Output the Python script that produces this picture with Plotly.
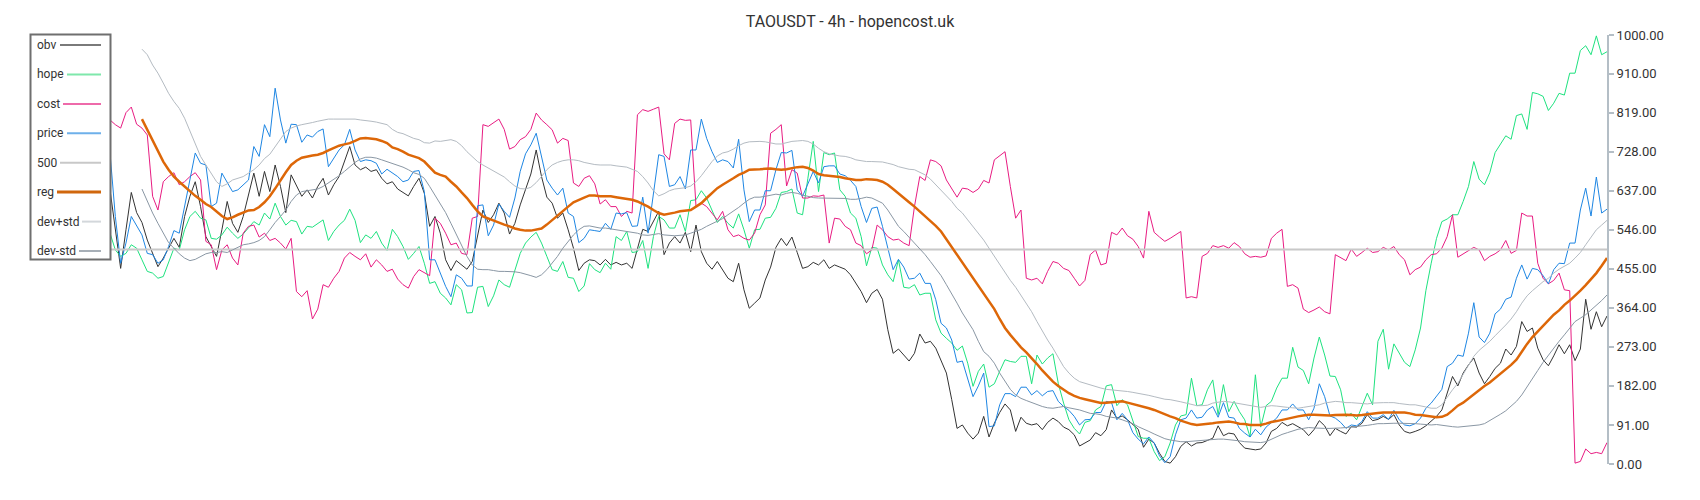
import plotly.graph_objects as go

title_text = "TAOUSDT - 4h - hopencost.uk"
series_names = ["obv", "hope", "cost", "price", "500", "reg", "dev+std", "dev-std"]
tick_vals = [0, 91, 182, 273, 364, 455, 546, 637, 728, 819, 910, 1000]
tick_text = ["%.2f" % v for v in tick_vals]
level_500 = 500
reg_start = 6

obv = [639, 546, 456, 546, 633, 586, 563, 522, 491, 460, 480, 503, 526, 505, 577, 624, 658, 600, 530, 507, 484, 546, 612, 561, 540, 577, 631, 678, 624, 682, 635, 697,
       647, 586, 674, 647, 624, 639, 620, 647, 666, 627, 651, 670, 705, 740, 697, 686, 692, 682, 686, 666, 653, 658, 641, 633, 625, 647, 666, 631, 554, 577,
       538, 476, 451, 474, 464, 454, 472, 536, 592, 563, 581, 608, 585, 536, 561, 604, 639, 676, 732, 670, 622, 608, 573, 585, 546, 503, 451, 468, 476, 474, 464, 477,
       464, 470, 464, 468, 456, 503, 547, 542, 565, 589, 488, 515, 530, 515, 540, 495, 557, 495, 468, 454, 472, 453, 433, 425, 468, 406, 363, 375, 387, 429, 459, 505,
       526, 509, 529, 493, 456, 460, 470, 464, 476, 456, 464, 459, 454, 441, 421, 402, 376, 398, 407, 384, 313, 258, 268, 254, 240, 258, 303, 282, 286, 270,
       243, 212, 150, 83, 91, 72, 58, 72, 111, 63, 95, 120, 140, 126, 76, 109, 95, 91, 94, 80, 97, 107, 99, 86, 80, 68, 42, 49, 56, 73, 66,
       80, 126, 107, 112, 103, 91, 81, 39, 58, 49, 25, 6, 2, 17, 41, 52, 42, 49, 50, 55, 60, 89, 66, 72, 70, 50, 37, 35, 33, 35, 49,
       76, 83, 97, 89, 94, 87, 80, 66, 80, 101, 89, 66, 83, 76, 70, 87, 86, 95, 115, 101, 104, 111, 104, 115, 91, 76, 72, 76, 81, 89, 101,
       111, 126, 165, 204, 182, 212, 231, 247, 212, 187, 204, 223, 235, 268, 254, 274, 332, 309, 317, 270, 243, 229, 252, 278, 257, 278, 241, 268, 384, 314, 355, 320, 345]

hope = [538, 499, 484, 491, 511, 503, 476, 449, 445, 433, 437, 468, 503, 499, 546, 577, 589, 573, 569, 526, 524, 534, 552, 538, 526, 536, 550, 565, 557, 585, 571, 608,
        577, 557, 568, 565, 536, 554, 552, 561, 569, 521, 542, 557, 568, 594, 568, 516, 534, 526, 542, 515, 498, 547, 530, 507, 477, 491, 507, 468, 421, 425,
        398, 387, 371, 418, 406, 352, 353, 412, 414, 367, 392, 429, 418, 412, 453, 491, 515, 529, 540, 515, 484, 453, 449, 472, 435, 433, 402, 415, 467, 453, 446, 468,
        454, 530, 521, 542, 493, 495, 521, 456, 530, 577, 569, 550, 550, 581, 542, 614, 616, 637, 620, 592, 563, 577, 561, 550, 583, 546, 503, 546, 547, 573, 575, 596,
        633, 635, 641, 585, 581, 666, 752, 635, 726, 721, 725, 639, 624, 585, 573, 530, 462, 505, 503, 464, 441, 425, 476, 412, 410, 418, 394, 398, 398, 336,
        305, 293, 282, 265, 275, 235, 181, 216, 233, 179, 187, 216, 243, 239, 237, 251, 251, 187, 254, 233, 247, 257, 188, 142, 103, 83, 70, 97, 101, 126, 134,
        182, 185, 136, 150, 138, 103, 64, 60, 60, 29, 8, 17, 49, 91, 112, 115, 200, 136, 138, 173, 196, 115, 185, 122, 146, 122, 103, 63, 208, 86, 136,
        146, 177, 200, 200, 272, 226, 218, 187, 247, 296, 254, 205, 204, 173, 111, 118, 103, 134, 165, 138, 286, 314, 221, 280, 260, 237, 227, 266, 317, 404, 468,
        526, 565, 571, 581, 581, 612, 647, 705, 664, 651, 679, 726, 744, 765, 757, 812, 816, 780, 866, 863, 857, 824, 841, 864, 860, 911, 911, 964, 975, 954, 998, 954, 961]

cost = [802, 791, 783, 819, 832, 792, 783, 767, 624, 592, 658, 670, 679, 651, 658, 670, 679, 662, 519, 511, 453, 499, 511, 480, 464, 538, 554, 557, 529, 538, 521, 526,
        515, 501, 526, 402, 390, 404, 338, 361, 418, 412, 433, 449, 480, 493, 484, 476, 490, 459, 476, 464, 449, 454, 431, 418, 410, 437, 453, 445, 439, 573,
        561, 538, 511, 515, 491, 488, 573, 577, 791, 787, 796, 804, 780, 734, 740, 756, 763, 780, 818, 802, 791, 779, 748, 759, 754, 655, 647, 666, 672, 653, 606, 616,
        600, 600, 577, 589, 585, 814, 826, 822, 827, 832, 723, 709, 794, 804, 801, 802, 600, 608, 600, 585, 569, 589, 546, 530, 534, 526, 522, 538, 581, 604, 771, 780,
        791, 648, 686, 678, 620, 620, 625, 624, 627, 515, 573, 571, 554, 546, 515, 509, 490, 499, 557, 546, 530, 522, 524, 515, 509, 600, 670, 661, 709, 705,
        695, 662, 641, 622, 643, 641, 633, 641, 661, 655, 709, 718, 728, 647, 573, 592, 433, 429, 433, 420, 449, 472, 468, 456, 451, 433, 415, 428, 488, 499, 464,
        468, 540, 534, 550, 532, 524, 507, 480, 589, 540, 529, 519, 526, 534, 542, 387, 390, 387, 484, 491, 509, 505, 509, 503, 516, 507, 490, 482, 484, 482, 485,
        526, 538, 547, 414, 418, 410, 361, 353, 359, 366, 355, 350, 488, 480, 474, 501, 484, 493, 503, 493, 495, 505, 499, 507, 488, 476, 441, 453, 459, 476, 488,
        490, 503, 530, 581, 482, 490, 499, 505, 499, 474, 484, 490, 499, 521, 491, 498, 585, 578, 578, 468, 433, 420, 428, 445, 406, 404, 2, 6, 35, 24, 27, 24, 50]

price = [725, 577, 468, 515, 577, 557, 534, 491, 488, 468, 476, 507, 544, 538, 600, 670, 725, 701, 697, 600, 608, 678, 655, 635, 639, 651, 662, 740, 717, 791, 763, 876,
         802, 748, 792, 791, 750, 767, 762, 775, 781, 693, 713, 732, 744, 780, 732, 705, 709, 707, 701, 676, 687, 679, 670, 658, 662, 682, 684, 635, 476, 476,
         445, 414, 390, 441, 433, 415, 415, 602, 604, 532, 557, 606, 589, 575, 620, 682, 723, 744, 771, 715, 662, 643, 627, 643, 585, 577, 516, 526, 546, 544, 542, 561,
         547, 585, 583, 586, 554, 555, 622, 538, 631, 721, 717, 647, 651, 670, 641, 732, 732, 804, 759, 728, 703, 709, 705, 690, 757, 639, 565, 592, 592, 637, 637, 686,
         726, 725, 731, 639, 624, 651, 682, 655, 693, 695, 695, 676, 672, 661, 647, 600, 563, 596, 599, 554, 501, 453, 477, 459, 431, 433, 445, 421, 421, 383,
         328, 317, 289, 237, 240, 196, 157, 182, 212, 87, 89, 138, 164, 164, 157, 179, 179, 161, 171, 159, 169, 171, 146, 134, 125, 111, 91, 103, 104, 120, 120,
         146, 143, 103, 118, 103, 73, 58, 47, 63, 49, 19, 3, 17, 68, 103, 107, 126, 107, 109, 126, 134, 109, 143, 109, 107, 83, 72, 63, 81, 68, 86,
         97, 107, 126, 126, 140, 126, 126, 103, 130, 187, 157, 112, 107, 97, 83, 91, 89, 99, 122, 107, 107, 115, 104, 125, 103, 91, 89, 94, 107, 130, 142,
         157, 174, 227, 235, 254, 251, 305, 376, 296, 283, 305, 350, 361, 384, 389, 433, 464, 431, 456, 453, 439, 420, 453, 468, 467, 515, 515, 592, 643, 578, 669, 585, 594]

reg = [804, 779, 752, 728, 705, 686, 670, 658, 647, 635, 625, 616, 606, 599, 589, 578, 571, 575, 581, 586, 591, 592, 599, 610, 624, 642,
       662, 680, 697, 707, 714, 717, 719, 721, 725, 731, 736, 742, 745, 748, 753, 759, 760, 759, 757, 753, 748, 738, 734, 728, 721, 717, 713, 705, 693, 679,
       674, 670, 658, 647, 633, 620, 604, 589, 577, 572, 568, 563, 558, 554, 549, 546, 544, 544, 546, 549, 558, 569, 580, 589, 600, 610, 616, 621, 626, 626, 624, 624,
       624, 622, 620, 618, 616, 612, 606, 600, 592, 585, 581, 583, 586, 589, 590, 592, 600, 608, 620, 631, 643, 651, 658, 666, 674, 679, 686, 686, 687, 688, 689, 687,
       686, 687, 690, 692, 693, 690, 684, 676, 673, 672, 670, 669, 666, 664, 662, 662, 664, 663, 662, 658, 651, 641, 630, 620, 610, 600, 589, 578, 568, 555,
       542, 524, 507, 488, 468, 451, 433, 415, 398, 379, 361, 338, 317, 301, 286, 272, 260, 247, 233, 218, 204, 192, 182, 173, 165, 159, 154, 151, 148, 145, 142,
       143, 144, 145, 146, 143, 140, 137, 134, 130, 126, 121, 115, 111, 107, 101, 97, 93, 91, 92, 94, 95, 97, 98, 99, 97, 94, 93, 91, 91, 91, 94,
       98, 100, 103, 106, 109, 111, 113, 115, 115, 114, 113, 113, 114, 115, 115, 114, 113, 114, 116, 117, 119, 120, 120, 120, 120, 120, 118, 115, 114, 112, 111,
       109, 110, 115, 125, 136, 143, 153, 164, 173, 182, 190, 200, 210, 219, 231, 243, 262, 280, 296, 309, 324, 336, 348, 358, 371, 381, 392, 404, 417, 431, 445, 462, 480]

dev_plus = [967, 954, 930, 911, 888, 864, 845, 829, 806, 775, 748, 717, 697, 678, 658, 647, 653, 662, 666, 670, 678, 686, 697, 712, 722, 740,
            757, 775, 783, 788, 791, 793, 796, 799, 802, 804, 804, 804, 804, 804, 804, 802, 801, 799, 797, 794, 791, 780, 773, 770, 765, 759, 756, 749, 748, 753,
            752, 754, 756, 752, 742, 728, 717, 705, 697, 690, 684, 676, 669, 658, 648, 642, 641, 645, 656, 670, 686, 697, 703, 707, 709, 709, 707, 703, 700, 698, 697, 697,
            697, 695, 693, 692, 687, 682, 670, 655, 637, 625, 630, 637, 641, 642, 644, 648, 658, 672, 690, 705, 718, 725, 728, 734, 742, 748, 751, 752, 752, 751, 749, 746,
            746, 749, 752, 753, 754, 752, 746, 736, 728, 723, 720, 718, 717, 714, 709, 707, 705, 705, 705, 704, 701, 698, 693, 690, 687, 686, 679, 674, 664, 651,
            639, 625, 612, 596, 585, 569, 554, 538, 522, 503, 484, 464, 446, 428, 412, 394, 375, 355, 332, 309, 289, 270, 247, 227, 212, 200, 192, 188, 185, 181, 177,
            174, 173, 171, 171, 169, 167, 165, 163, 160, 157, 154, 151, 150, 148, 145, 142, 139, 136, 136, 137, 142, 144, 146, 145, 143, 140, 138, 136, 134, 132, 134,
            136, 135, 133, 132, 131, 130, 132, 134, 136, 138, 142, 144, 146, 145, 143, 143, 142, 141, 140, 142, 143, 143, 143, 143, 141, 139, 138, 138, 136, 133, 130,
            130, 138, 157, 173, 188, 208, 231, 251, 265, 275, 286, 299, 311, 324, 338, 355, 375, 392, 404, 415, 425, 433, 445, 454, 462, 468, 480, 493, 511, 530, 546, 557, 568]

dev_minus = [641, 612, 585, 561, 538, 516, 503, 490, 480, 474, 477, 484, 490, 493, 493, 495, 493, 499, 505, 511, 513, 516, 521, 530, 546, 563,
             577, 592, 612, 627, 635, 637, 639, 641, 647, 655, 662, 672, 682, 693, 703, 711, 715, 715, 713, 709, 705, 701, 697, 692, 686, 679, 675, 666, 647, 627,
             608, 586, 561, 534, 507, 484, 464, 454, 453, 453, 451, 449, 449, 449, 448, 446, 443, 439, 435, 441, 453, 468, 484, 503, 519, 534, 546, 554, 555, 552, 550, 550,
             548, 547, 545, 543, 541, 538, 534, 533, 535, 537, 534, 533, 532, 533, 534, 538, 542, 547, 554, 560, 566, 572, 581, 589, 598, 608, 617, 622, 622, 624, 627, 629,
             627, 631, 633, 631, 627, 624, 621, 620, 620, 620, 620, 620, 619, 617, 617, 619, 622, 620, 614, 608, 592, 573, 554, 542, 529, 515, 503, 488, 472, 456,
             439, 418, 398, 375, 352, 332, 313, 286, 262, 251, 235, 212, 192, 174, 161, 153, 148, 143, 138, 134, 131, 130, 132, 134, 131, 129, 126, 122, 118, 117, 115,
             111, 109, 107, 103, 99, 94, 87, 82, 76, 70, 64, 59, 56, 54, 52, 52, 53, 55, 56, 57, 58, 58, 58, 57, 56, 54, 52, 51, 50, 50, 52,
             58, 64, 69, 73, 77, 81, 83, 85, 84, 83, 83, 83, 83, 84, 85, 86, 87, 89, 90, 92, 94, 94, 95, 95, 95, 95, 94, 94, 93, 92, 91,
             92, 90, 89, 87, 86, 87, 89, 90, 91, 94, 101, 109, 116, 124, 134, 146, 161, 181, 199, 218, 237, 254, 270, 286, 301, 317, 332, 340, 348, 359, 369, 381, 394]

N = len(obv)
for arr in (hope, cost, price):
    assert len(arr) == N, len(arr)
for arr in (reg, dev_plus, dev_minus):
    assert len(arr) == N - reg_start, len(arr)

x = list(range(N))
pad = [None] * reg_start
line_500 = [level_500] * N

colors = {
    "obv": "#333333", "hope": "#1ee27f", "cost": "#e81c82", "price": "#1e86e3",
    "500": "#c8c8c8", "reg": "#dd6708", "dev+std": "#b4bbc2", "dev-std": "#8a97a4",
}
legend_colors = {
    "obv": "#7a7a7a", "hope": "#7fe8ab", "cost": "#ee6aaa", "price": "#6eb0ea",
    "500": "#c8c8c8", "reg": "#d0670d", "dev+std": "#d3d7db", "dev-std": "#a7afb7",
}

data = {
    "obv": obv, "hope": hope, "cost": cost, "price": price, "500": line_500,
    "reg": pad + reg, "dev+std": pad + dev_plus, "dev-std": pad + dev_minus,
}
widths = {"obv": 1, "hope": 1, "cost": 1, "price": 1, "500": 2, "reg": 2.5,
          "dev+std": 1, "dev-std": 1}

fig = go.Figure()
for name in series_names:
    fig.add_trace(go.Scatter(
        x=x, y=data[name], mode="lines", name=name,
        line=dict(color=colors[name], width=widths[name]),
        hoverinfo="skip", showlegend=False, connectgaps=False,
    ))

# plot area in pixels
L, R, T, B = 110, 1607, 35, 464
W, H = R - L, B - T


def pxx(px):
    return (px - L) / W


def pxy(py):
    return (B - py) / H


shapes = [dict(type="rect", xref="paper", yref="paper",
               x0=pxx(30.5), x1=pxx(110.5), y0=pxy(259.5), y1=pxy(34.5),
               line=dict(color="#6f6f6f", width=2), fillcolor="rgba(0,0,0,0)")]
annotations = []
item_y = [45, 74.4, 103.9, 133.3, 162.7, 192.1, 221.6, 251]
line_start = {"obv": 60, "hope": 67, "cost": 63, "price": 67, "500": 60,
              "reg": 57, "dev+std": 82, "dev-std": 79}
for name, yy in zip(series_names, item_y):
    annotations.append(dict(
        text=name, xref="paper", yref="paper", x=pxx(35), y=pxy(yy),
        xanchor="left", yanchor="middle", showarrow=False,
        font=dict(family="Roboto, sans-serif", size=12, color="#333333"),
    ))
    shapes.append(dict(
        type="line", xref="paper", yref="paper",
        x0=pxx(line_start[name]), x1=pxx(101), y0=pxy(yy), y1=pxy(yy),
        line=dict(color=legend_colors[name], width=3 if name == "reg" else 2),
    ))

fig.update_layout(
    width=1700, height=500, autosize=False,
    margin=dict(l=L, r=1700 - R, t=T, b=500 - B, pad=0),
    paper_bgcolor="white", plot_bgcolor="white",
    title=dict(text=title_text, x=0.5, xref="container", xanchor="center",
               y=1 - 21 / 500, yref="container", yanchor="middle",
               font=dict(family="Roboto, sans-serif", size=16, color="#333333")),
    xaxis=dict(visible=False, range=[0, N - 1], fixedrange=True),
    yaxis=dict(side="right", range=[0, 1000], tickvals=tick_vals, ticktext=tick_text,
               showgrid=False, zeroline=False, showline=True, linecolor="#b4bec6",
               linewidth=2, ticks="outside", ticklen=5, tickwidth=2, tickcolor="#b4bec6",
               tickfont=dict(family="Roboto, sans-serif", size=13, color="#333333"),
               fixedrange=True),
    shapes=shapes, annotations=annotations, showlegend=False,
)

fig.write_html("out.html", config={"displayModeBar": False},
               post_script="document.body.style.margin='0';document.body.style.overflow='hidden';")
